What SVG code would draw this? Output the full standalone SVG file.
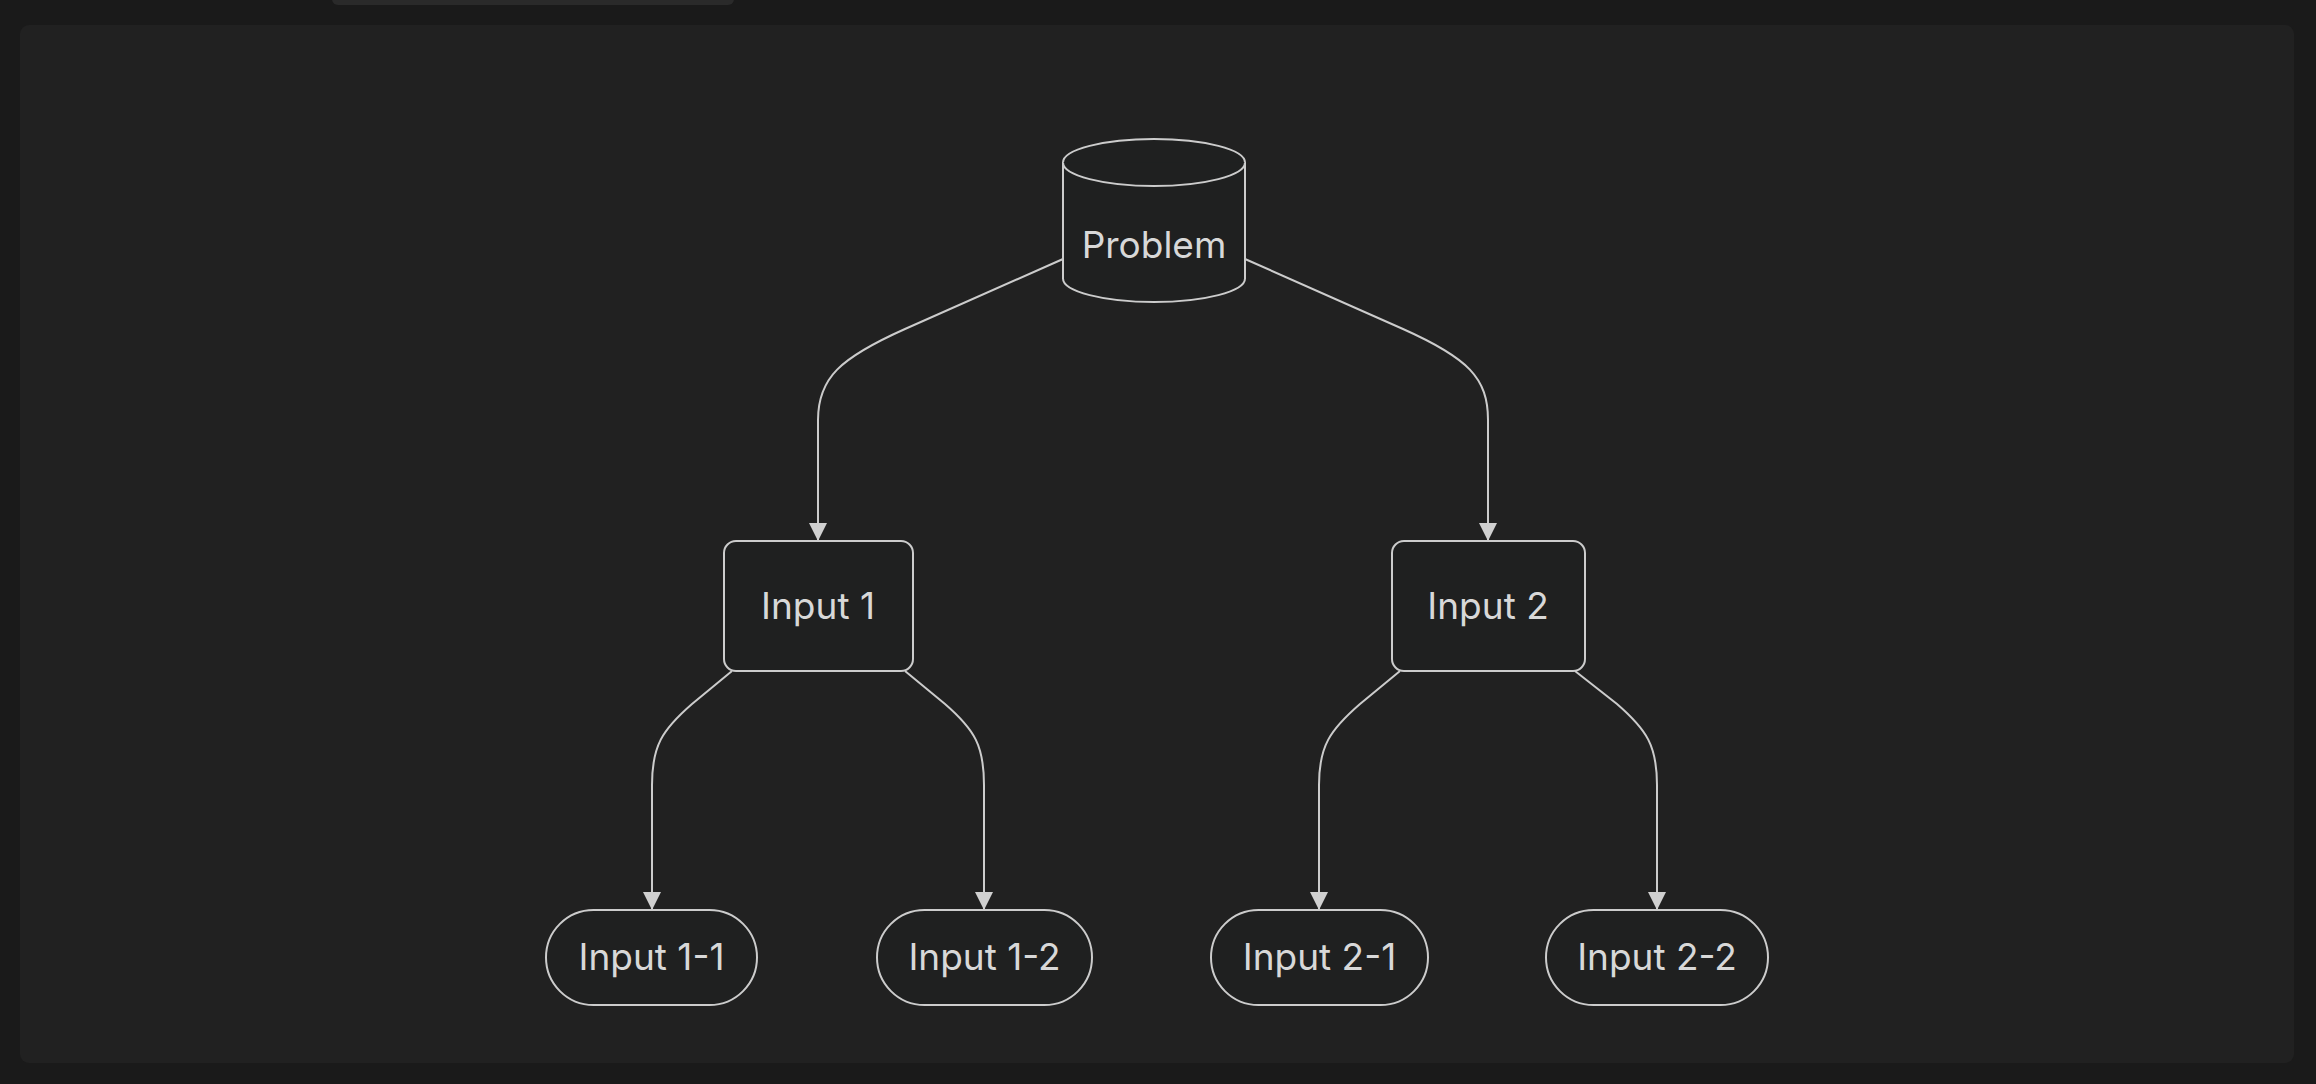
<svg xmlns="http://www.w3.org/2000/svg" width="2316" height="1084" viewBox="0 0 2316 1084">
<defs>
<style>
.node{fill:#1f2020;stroke:#cccccc;stroke-width:2}
.lbl{font-family:Inter,"Liberation Sans",sans-serif;font-size:37px;fill:#d8d8d8;text-anchor:middle}
.edge{fill:none;stroke:#cccccc;stroke-width:2}
</style>
<marker id="arr" viewBox="0 0 18 18" refX="18" refY="9" markerWidth="18" markerHeight="18" markerUnits="userSpaceOnUse" orient="auto">
<path d="M0,0 L18,9 L0,18 Z" fill="#d0d0d0"/>
</marker>
</defs>
<rect x="0" y="0" width="2316" height="1084" fill="#1a1a1a"/>
<rect x="332" y="-10" width="402" height="15" rx="6" fill="#2a2a2a"/>
<rect x="20" y="25" width="2274" height="1038" rx="9" fill="#212121"/>
<g id="connectors">
<path class="edge" marker-end="url(#arr)" d="M1063,259 L905,329 C840,358 818,378 818,420 L818,541"/>
<path class="edge" marker-end="url(#arr)" d="M1245,259 L1403,329 C1468,358 1488,378 1488,420 L1488,541"/>
<path class="edge" marker-end="url(#arr)" d="M732,671 L692,704 C662,730 652,746 652,785 L652,910"/>
<path class="edge" marker-end="url(#arr)" d="M905,671 L945,704 C975,730 984,746 984,785 L984,910"/>
<path class="edge" marker-end="url(#arr)" d="M1400,671 L1360,704 C1330,730 1319,746 1319,785 L1319,910"/>
<path class="edge" marker-end="url(#arr)" d="M1575,671 L1617,704 C1647,730 1657,746 1657,785 L1657,910"/>
</g>
<g id="problem">
<path class="node" d="M1063,162.5 A91,23.5 0 0 1 1245,162.5 L1245,278.5 A91,23.5 0 0 1 1063,278.5 Z"/>
<path class="node" fill="none" d="M1063,162.5 A91,23.5 0 0 0 1245,162.5"/>
<text class="lbl" x="1154" y="258">Problem</text>
</g>
<g id="input1">
<rect class="node" x="724" y="541" width="189" height="130" rx="12"/>
<text class="lbl" x="818" y="619">Input 1</text>
</g>
<g id="input2">
<rect class="node" x="1392" y="541" width="193" height="130" rx="12"/>
<text class="lbl" x="1488" y="619">Input 2</text>
</g>
<g id="input1-1">
<rect class="node" x="546" y="910" width="211" height="95" rx="47.5"/>
<text class="lbl" x="651.5" y="970">Input 1-1</text>
</g>
<g id="input1-2">
<rect class="node" x="877" y="910" width="215" height="95" rx="47.5"/>
<text class="lbl" x="984.5" y="970">Input 1-2</text>
</g>
<g id="input2-1">
<rect class="node" x="1211" y="910" width="217" height="95" rx="47.5"/>
<text class="lbl" x="1319.5" y="970">Input 2-1</text>
</g>
<g id="input2-2">
<rect class="node" x="1546" y="910" width="222" height="95" rx="47.5"/>
<text class="lbl" x="1657" y="970">Input 2-2</text>
</g>
</svg>
